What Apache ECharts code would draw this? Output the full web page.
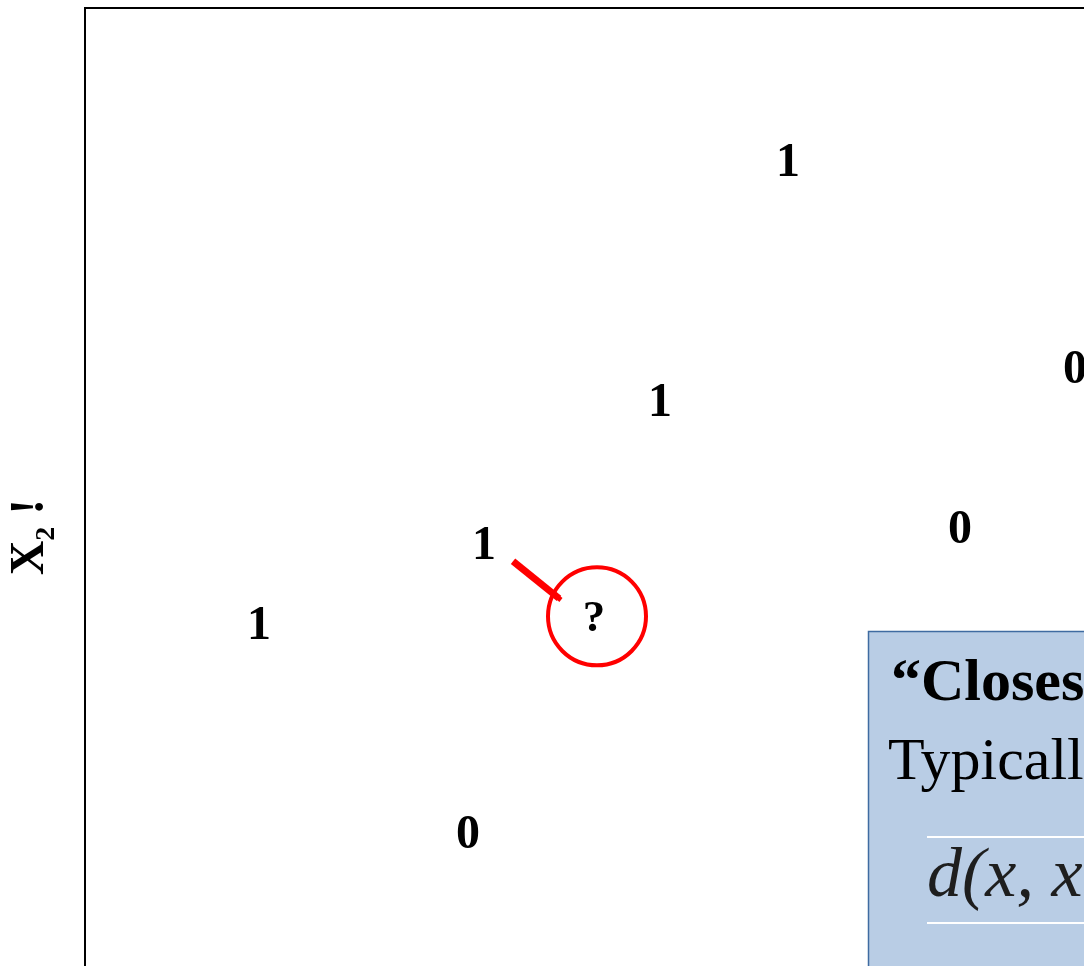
<!DOCTYPE html>
<html>
<head>
<meta charset="utf-8">
<title>Nearest neighbour query</title>
<script src="https://cdn.jsdelivr.net/npm/echarts@6/dist/echarts.min.js"></script>
<style>
  html, body { margin: 0; padding: 0; background: #fff; }
  #chart { width: 1084px; height: 966px; }
</style>
</head>
<body>
<div id="chart"></div>
<script>
// Labelled training points in feature space (x1, x2) and their class
const x1Values = [7.03, 9.90, 5.75, 8.75, 3.99, 1.74, 3.83];
const x2Values = [8.56, 6.60, 6.29, 5.09, 4.94, 4.18, 2.21];
const classLabels = ['1', '0', '1', '0', '1', '1', '0'];

// Unlabelled query point
const queryPoint = [5.12, 4.25];
const queryLabel = '?';

// Pointer from the nearest neighbour toward the query
const pointerFrom = [4.28, 4.77];
const pointerTo = [4.74, 4.42];

// Axis text
const yAxisTitle = '{b|X}{s|2}{b| !}';

// Annotation panel text
const panelTitle = '\u201CClosest\u201D point:';
const panelBody = 'Typically use Euclidean distance';
const panelFormula = 'd(x, x\u2032) = \u221A\u2211(x\u1D62 \u2212 x\u2032\u1D62)\u00B2';

const SERIF = '"Liberation Serif", "Times New Roman", serif';

const chart = echarts.init(document.getElementById('chart'), null, { renderer: 'canvas' });

const points = x1Values.map((x, i) => ({ value: [x, x2Values[i]], cls: classLabels[i] }));

chart.setOption({
  animation: false,
  backgroundColor: '#ffffff',
  grid: {
    left: 85, top: 8, width: 1100, height: 1058,
    outerBoundsMode: 'none',
    containLabel: false,
    show: true, borderColor: '#000', borderWidth: 2, backgroundColor: 'transparent'
  },
  xAxis: {
    type: 'value', min: 0, max: 11, show: false
  },
  yAxis: {
    type: 'value', min: 0, max: 10,
    axisLine: { show: false }, axisTick: { show: false },
    axisLabel: { show: false }, splitLine: { show: false },
    name: yAxisTitle,
    nameLocation: 'middle',
    nameRotate: 90,
    nameGap: 24,
    nameTextStyle: {
      rich: {
        b: { fontFamily: SERIF, fontWeight: 'bold', fontSize: 48, lineHeight: 60, color: '#000' },
        s: { fontFamily: SERIF, fontWeight: 'bold', fontSize: 28, lineHeight: 28, color: '#000', verticalAlign: 'bottom' }
      }
    }
  },
  series: [
    {
      type: 'scatter',
      data: points,
      symbol: 'circle',
      symbolSize: 1,
      itemStyle: { color: 'rgba(0,0,0,0)', opacity: 1 },
      label: {
        show: true,
        position: 'inside',
        offset: [0, 3],
        formatter: p => p.data.cls,
        fontFamily: SERIF,
        fontWeight: 'bold',
        fontSize: 48,
        color: '#000',
        textBorderWidth: 0
      },
      silent: true
    },
    {
      type: 'lines',
      coordinateSystem: 'cartesian2d',
      data: [{ coords: [pointerFrom, pointerTo] }],
      symbol: ['none', 'rect'],
      symbolSize: [16, 5],
      lineStyle: { color: '#ff0000', width: 7, opacity: 1, curveness: 0 },
      silent: true
    },
    {
      type: 'scatter',
      data: [queryPoint],
      symbol: 'circle',
      symbolSize: 98,
      itemStyle: { color: 'rgba(0,0,0,0)', borderColor: '#ff0000', borderWidth: 4, opacity: 1 },
      label: {
        show: true,
        position: 'inside',
        offset: [-3, 3],
        formatter: queryLabel,
        fontFamily: SERIF,
        fontWeight: 'bold',
        fontSize: 45,
        color: '#000',
        textBorderWidth: 0
      },
      silent: true
    }
  ],
  graphic: [
    {
      type: 'group',
      z: 100,
      children: [
        {
          type: 'rect',
          shape: { x: 868.5, y: 631.5, width: 400, height: 500 },
          style: { fill: '#b9cde5', stroke: '#3f6ba1', lineWidth: 1.5 }
        },
        {
          type: 'text',
          x: 891, y: 654,
          style: { text: panelTitle, font: 'bold 60px ' + SERIF, fill: '#000', verticalAlign: 'top' }
        },
        {
          type: 'text',
          x: 888, y: 733,
          style: { text: panelBody, font: '60px ' + SERIF, fill: '#000', verticalAlign: 'top' }
        },
        {
          type: 'line',
          shape: { x1: 927, y1: 837, x2: 1200, y2: 837 },
          style: { stroke: '#ffffff', lineWidth: 2 }
        },
        {
          type: 'text',
          x: 927, y: 843,
          style: { text: panelFormula, font: 'italic 70px ' + SERIF, fill: '#1e1e1e', verticalAlign: 'top' }
        },
        {
          type: 'line',
          shape: { x1: 927, y1: 923, x2: 1200, y2: 923 },
          style: { stroke: '#ffffff', lineWidth: 2 }
        }
      ]
    }
  ]
});
</script>
</body>
</html>
